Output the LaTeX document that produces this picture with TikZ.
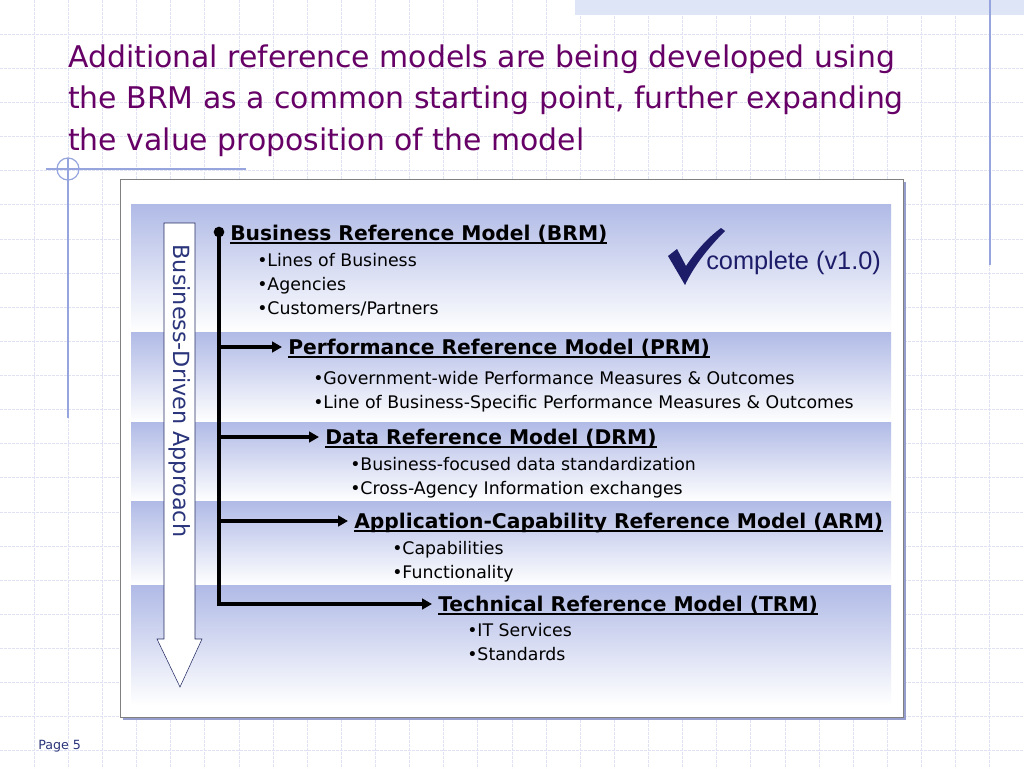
\documentclass[tikz,border=0pt]{standalone}
\usepackage{fontspec}
\usepackage[table]{xcolor}
\usepackage{tikz}
\usetikzlibrary{arrows.meta}

\newfontfamily\tahoma{DejaVu Sans}
\newfontfamily\arialf{Liberation Sans}

\definecolor{titlec}{RGB}{102,0,102}
\definecolor{bandc}{RGB}{176,186,230}
\definecolor{gridc}{RGB}{222,226,242}
\definecolor{linec}{RGB}{150,165,222}
\definecolor{navy}{RGB}{42,52,122}
\definecolor{checkc}{RGB}{28,28,105}
\definecolor{shadowc}{RGB}{150,158,205}
\definecolor{topband}{RGB}{222,229,247}

\newsavebox\hdbox
\newcommand\hdul[1]{\sbox\hdbox{#1}\rlap{\rule[-2.6pt]{\wd\hdbox}{1.1pt}}\usebox\hdbox}

\begin{document}
\begin{tikzpicture}[x=0.75pt,y=-0.75pt,
    gridline/.style={gridc, line width=0.6pt, dash pattern=on 2pt off 1pt},
    deco/.style={linec, line width=0.9pt},
    band/.style={top color=bandc, bottom color=white, draw=none},
    bus/.style={line width=3pt, -{Triangle[length=7.5pt,width=8pt]}},
    head/.style={anchor=west, inner xsep=4.5pt, inner ysep=0pt, text height=11pt, text depth=0pt,
                 font=\tahoma\bfseries\fontsize{15.2pt}{18pt}\selectfont},
    items/.style={anchor=base west, inner sep=0pt, align=left,
                  font=\tahoma\fontsize{13pt}{18pt}\selectfont}]

        \useasboundingbox (0,0) rectangle (1024,768);
        \fill [white] (0,0) rectangle (1024,768);                    % page
        \foreach \i in {1,...,29}
          \draw [gridline] (\i*34.13,0) -- (\i*34.13,768);           % grid
        \foreach \j in {1,...,22}
          \draw [gridline] (0,\j*34.13) -- (1024,\j*34.13);          %
        \fill [topband] (575,0) rectangle (1024,15);                 % top strip
        \draw [deco] (990,0) -- (990,265);                           %
        \draw [deco] (68,158) -- (68,418);                           %
        \draw [deco] (46,169) -- (246,169);                          %
        \draw [deco] (68,169) circle [radius=11];                    %

        \node [anchor=base west, inner sep=0pt, align=left, titlec,
               font=\tahoma\fontsize{22.4pt}{31pt}\selectfont] (title) at (68,150)
              {Additional reference models are being developed using\\
               the BRM as a common starting point, further expanding\\
               the value proposition of the model};

        \fill [shadowc] (123,182) rectangle (906,720);               % frame
        \draw [gray, fill=white] (120,179) rectangle (903,717);      %
        \foreach \ya/\yb in {204/332, 332/422, 422/501, 501/585, 585/705}
          \shade [band] (131,\ya) rectangle (891,\yb);               % bands

        \draw [navy!80!black, fill=white] (164,223) -- (195,223) -- (195,639) -- (202,639)
              -- (180,687) -- (157,639) -- (164,639) -- cycle;       % arrow
        \node [rotate=-90, navy, font=\tahoma\fontsize{16.7pt}{20pt}\selectfont] (approach)
              at (180,391) {Business-Driven Approach};

        \node [head] (brm) at (224,233) {\hdul{Business Reference Model (BRM)}};
        \node [head] (prm) at (282,347) {\hdul{Performance Reference Model (PRM)}};
        \node [head] (drm) at (319,437) {\hdul{Data Reference Model (DRM)}};
        \node [head] (arm) at (348,521) {\hdul{Application-Capability Reference Model (ARM)}};
        \node [head] (trm) at (432,604) {\hdul{Technical Reference Model (TRM)}};

        \node [circle, fill=black, inner sep=0pt, minimum size=8] (root) at (219,232) {};
        \draw [bus] (root.center) -- (root |- trm.west) -- (trm.west);     % TRM
        \draw [bus] (root |- prm.west) -- (prm.west);                      % PRM
        \draw [bus] (root |- drm.west) -- (drm.west);                      % DRM
        \draw [bus] (root |- arm.west) -- (arm.west);                      % ARM

        \node [items] (brmitems) at (257,314) {•Lines of Business\\•Agencies\\•Customers/Partners};
        \node [items] (prmitems) at (313,408) {•Government-wide Performance Measures \& Outcomes\\
                                               •Line of Business-Specific Performance Measures \& Outcomes};
        \node [items] (drmitems) at (350,494) {•Business-focused data standardization\\•Cross-Agency Information exchanges};
        \node [items] (armitems) at (392,578) {•Capabilities\\•Functionality};
        \node [items] (trmitems) at (467,660) {•IT Services\\•Standards};

        \fill [checkc] (668,256) -- (677,249) -- (686,266)
              .. controls (698,248) and (710,236) .. (721,228) -- (725,231)
              .. controls (708,248) and (694,266) .. (685,285) -- cycle;   % check
        \node [anchor=west, inner sep=0pt, checkc, font=\arialf\fontsize{19pt}{22pt}\selectfont]
              (complete) at (706,263) {complete (v1.0)};

        \node [anchor=base west, inner sep=0pt, navy, font=\tahoma\fontsize{9.5pt}{12pt}\selectfont]
              (page) at (38,749) {Page 5};
      \end{tikzpicture}
\end{document}
